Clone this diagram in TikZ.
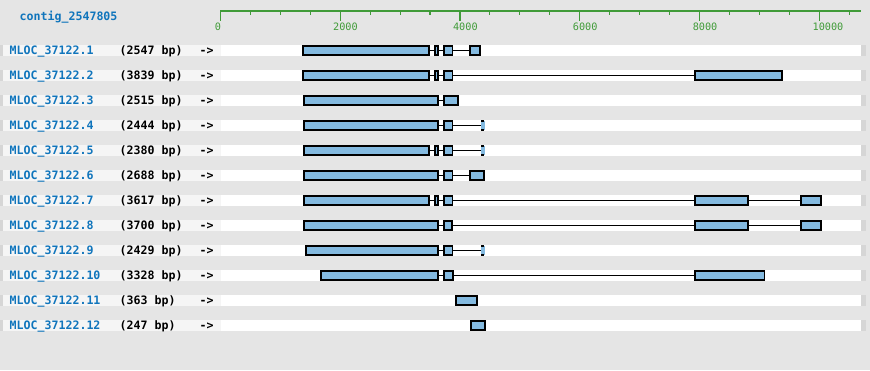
\documentclass[tikz,border=0pt]{standalone}
\usepackage{fontspec}
\newfontfamily\monof{DejaVu Sans Mono}
\definecolor{bg}{RGB}{229,229,229}
\definecolor{lband}{RGB}{245,245,245}
\definecolor{edge}{RGB}{214,214,214}
\definecolor{lblue}{RGB}{16,117,188}
\definecolor{exfill}{RGB}{132,186,224}
\definecolor{axgreen}{RGB}{64,155,56}
\tikzset{
  exon/.style={draw=black,fill=exfill,line width=1.6pt,inner sep=0pt,outer sep=0pt,minimum height=9.1pt},
  tinyx/.style={fill=exfill,inner sep=0pt,outer sep=0pt,minimum width=4pt,minimum height=9.1pt},
  intron/.style={draw=black,line width=1.6pt},
  gname/.style={anchor=base west,inner sep=0pt,text=lblue,font=\monof\bfseries\fontsize{11.6}{12}\selectfont},
  glen/.style={anchor=base west,inner sep=0pt,text=black,font=\monof\bfseries\fontsize{11.6}{12}\selectfont},
  axlbl/.style={anchor=base west,inner sep=0pt,text=axgreen,font=\monof\fontsize{10.2}{12}\selectfont},
}
\newcommand\exon[4]{\node[exon,minimum width={(#3-#2-1.6)*1pt}] (#1) at ({(#2+#3)/2},#4) {};}
\newcommand\tinyex[2]{\node[tinyx] (#1) at (483.3,#2) {};
  \draw[line width=1.6pt] (#1.north west) -- ++(3,0);
  \draw[line width=1.6pt] (#1.south west) -- ++(3,0);}
\begin{document}
\begin{tikzpicture}[x=1pt,y=-1pt]
\useasboundingbox (0,0) rectangle (870,370);
\fill[bg] (0,0) rectangle (870,370);
% row bands
\foreach \i in {0,...,11}{
  \pgfmathsetmacro\c{50.35+25*\i}
  \fill[edge] (0,\c-5.35) rectangle (3,\c+5.35);
  \fill[lband] (3,\c-5.35) rectangle (220.7,\c+5.35);
  \fill[white] (220.7,\c-5.35) rectangle (861,\c+5.35);
  \fill[edge] (861,\c-5.35) rectangle (866,\c+5.35);
}
% axis
\node[gname] (contig) at (19.5,20.7) {contig\_2547805};
\draw[axgreen,line width=2.4pt] (220.3,11.2) coordinate (axs) -- (861,11.2) coordinate (axe);
\foreach \k in {0,...,21}{
  \pgfmathsetmacro\xx{220.3+29.96*\k}
  \pgfmathtruncatemacro\m{mod(\k,4)}
  \ifnum\m=0
    \draw[axgreen,line width=1.1pt] (\xx,12) -- (\xx,20.5);
  \else
    \draw[axgreen,line width=1.1pt] (\xx,12) -- (\xx,15.2);
  \fi
}
\node[axlbl] (a0) at (214.6,30.7) {0};
\node[axlbl] (a1) at (333.0,30.7) {2000};
\node[axlbl] (a2) at (452.9,30.7) {4000};
\node[axlbl] (a3) at (572.7,30.7) {6000};
\node[axlbl] (a4) at (692.6,30.7) {8000};
\node[axlbl] (a5) at (812.4,30.7) {10000};
% labels
\foreach \i/\n/\l in {1/1/2547,2/2/3839,3/3/2515,4/4/2444,5/5/2380,6/6/2688,7/7/3617,8/8/3700,9/9/2429,10/10/3328,11/11/363,12/12/247}{
  \pgfmathsetmacro\c{50.35+25*(\i-1)+3.7}
  \node[gname] (name\i) at (9.5,\c) {MLOC\_37122.\n};
  \node[glen] (len\i) at (119.5,\c) {(\l{} bp)};
  \node[glen] (arr\i) at (199.5,\c) {->};
}
% row 1
\exon{r1a}{302.3}{430}{50.35}\exon{r1b}{434}{438.7}{50.35}\exon{r1c}{443.3}{453.3}{50.35}\exon{r1d}{469.3}{480.7}{50.35}
\draw[intron] (r1a.east)--(r1b.west) (r1b.east)--(r1c.west) (r1c.east)--(r1d.west);
% row 2
\exon{r2a}{302.3}{430}{75.35}\exon{r2b}{434}{438.7}{75.35}\exon{r2c}{443.3}{453.3}{75.35}\exon{r2d}{694.3}{782.7}{75.35}
\draw[intron] (r2a.east)--(r2b.west) (r2b.east)--(r2c.west) (r2c.east)--(r2d.west);
% row 3
\exon{r3a}{303.3}{438.7}{100.35}\exon{r3b}{443.3}{458.7}{100.35}
\draw[intron] (r3a.east)--(r3b.west);
% row 4
\exon{r4a}{303.3}{438.7}{125.35}\exon{r4b}{443.3}{453.3}{125.35}\tinyex{r4c}{125.35}
\draw[intron] (r4a.east)--(r4b.west) (r4b.east)--(r4c.west);
% row 5
\exon{r5a}{303.3}{430}{150.35}\exon{r5b}{434}{438.7}{150.35}\exon{r5c}{443.3}{453.3}{150.35}\tinyex{r5d}{150.35}
\draw[intron] (r5a.east)--(r5b.west) (r5b.east)--(r5c.west) (r5c.east)--(r5d.west);
% row 6
\exon{r6a}{303.3}{438.7}{175.35}\exon{r6b}{443.3}{453.3}{175.35}\exon{r6c}{469.3}{484.7}{175.35}
\draw[intron] (r6a.east)--(r6b.west) (r6b.east)--(r6c.west);
% row 7
\exon{r7a}{303.3}{430}{200.35}\exon{r7b}{434}{438.7}{200.35}\exon{r7c}{443.3}{453.3}{200.35}\exon{r7d}{694.3}{748.7}{200.35}\exon{r7e}{800.3}{822}{200.35}
\draw[intron] (r7a.east)--(r7b.west) (r7b.east)--(r7c.west) (r7c.east)--(r7d.west) (r7d.east)--(r7e.west);
% row 8
\exon{r8a}{303.3}{438.7}{225.35}\exon{r8b}{443.3}{453}{225.35}\exon{r8c}{694.3}{748.7}{225.35}\exon{r8d}{800.3}{822}{225.35}
\draw[intron] (r8a.east)--(r8b.west) (r8b.east)--(r8c.west) (r8c.east)--(r8d.west);
% row 9
\exon{r9a}{305.3}{438.7}{250.35}\exon{r9b}{443.3}{453.3}{250.35}\tinyex{r9c}{250.35}
\draw[intron] (r9a.east)--(r9b.west) (r9b.east)--(r9c.west);
% row 10
\exon{r10a}{320.3}{438.7}{275.35}\exon{r10b}{443.3}{453.7}{275.35}\exon{r10c}{694.3}{765.3}{275.35}
\draw[intron] (r10a.east)--(r10b.west) (r10b.east)--(r10c.west);
% row 11
\exon{r11a}{455.3}{477.7}{300.35}
% row 12
\exon{r12a}{470}{485.7}{325.35}
\end{tikzpicture}
\end{document}
